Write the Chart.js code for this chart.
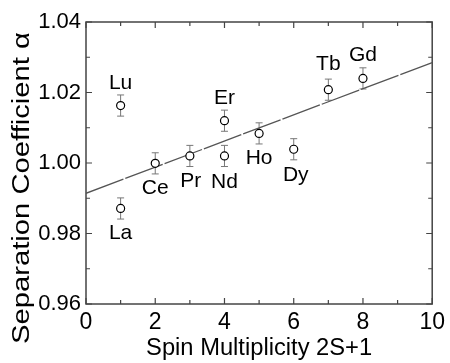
<!DOCTYPE html>
<html>
<head>
<meta charset="utf-8">
<script src="https://cdn.jsdelivr.net/npm/chart.js@4/dist/chart.umd.min.js"></script>
<style>
  html, body { margin: 0; padding: 0; background: #fff; }
  #wrap { width: 450px; height: 363px; }
</style>
</head>
<body>
<div id="wrap"><canvas id="myChart" width="450" height="363"></canvas></div>
<script>
// data
var elements = ["Lu", "La", "Ce", "Pr", "Nd", "Er", "Ho", "Dy", "Tb", "Gd"];
var spin = [1, 1, 2, 3, 4, 4, 5, 6, 7, 8];
var alpha = [1.0163, 0.9871, 0.9999, 1.0020, 1.0020, 1.0120, 1.0084, 1.0039, 1.0208, 1.0240];
var alphaErr = [0.003, 0.003, 0.003, 0.003, 0.003, 0.003, 0.003, 0.003, 0.003, 0.003];
var fitX = [0, 10];
var fitY = [0.9914, 1.0285];
var xTicks = [0, 2, 4, 6, 8, 10];
var yTicks = [0.96, 0.98, 1.00, 1.02, 1.04];

// label offset from its point (px)
var labelDx = [0, 0, 0, 1, 0, 0, 0, 2, 0, 0];
var labelDy = [-22, 25, 25, 25, 26, -22, 25, 26, -25, -23];

var FONT = "'Liberation Sans', Arial, sans-serif";

var pts = [];
for (var i = 0; i < spin.length; i++) pts.push({x: spin[i], y: alpha[i]});
var fit = [];
for (var j = 0; j < fitX.length; j++) fit.push({x: fitX[j], y: fitY[j]});

function drawStretched(ctx, text, x, y, size, width, rot) {
    ctx.save();
    ctx.font = size + "px " + FONT;
    var w = ctx.measureText(text).width;
    ctx.translate(x, y);
    if (rot) ctx.rotate(rot);
    ctx.scale(width / w, 1);
    ctx.textAlign = "center";
    ctx.textBaseline = "middle";
    ctx.fillStyle = "#000";
    ctx.fillText(text, 0, 0);
    ctx.restore();
}

var extras = {
    id: "extras",
    beforeDatasetsDraw: function (chart) {
        var ctx = chart.ctx, xs = chart.scales.x, ys = chart.scales.y, a = chart.chartArea;
        ctx.save();
        // frame
        ctx.strokeStyle = "#444";
        ctx.lineWidth = 1.5;
        ctx.strokeRect(a.left, a.top, a.right - a.left, a.bottom - a.top);
        // inward ticks
        ctx.lineWidth = 1.2;
        ctx.beginPath();
        for (var v = 0; v <= 10; v++) {
            var px = xs.getPixelForValue(v);
            var len = (v % 2 == 0) ? 6 : 4;
            ctx.moveTo(px, a.bottom); ctx.lineTo(px, a.bottom - len);
            ctx.moveTo(px, a.top); ctx.lineTo(px, a.top + len);
        }
        for (var k = 0; k <= 8; k++) {
            var py = ys.getPixelForValue(0.96 + k * 0.01);
            var l2 = (k % 2 == 0) ? 6 : 4;
            ctx.moveTo(a.left, py); ctx.lineTo(a.left + l2, py);
            ctx.moveTo(a.right, py); ctx.lineTo(a.right - l2, py);
        }
        ctx.stroke();
        // error bars
        ctx.strokeStyle = "#777";
        ctx.lineWidth = 1;
        ctx.beginPath();
        for (var i = 0; i < spin.length; i++) {
            var x = xs.getPixelForValue(spin[i]);
            var y1 = ys.getPixelForValue(alpha[i] + alphaErr[i]);
            var y2 = ys.getPixelForValue(alpha[i] - alphaErr[i]);
            ctx.moveTo(x, y1); ctx.lineTo(x, y2);
            ctx.moveTo(x - 3.5, y1); ctx.lineTo(x + 3.5, y1);
            ctx.moveTo(x - 3.5, y2); ctx.lineTo(x + 3.5, y2);
        }
        ctx.stroke();
        ctx.restore();
    },
    afterDatasetsDraw: function (chart) {
        var ctx = chart.ctx, xs = chart.scales.x, ys = chart.scales.y, a = chart.chartArea;
        ctx.save();
        ctx.font = "21px " + FONT;
        ctx.fillStyle = "#000";
        ctx.textAlign = "center";
        ctx.textBaseline = "middle";
        for (var i = 0; i < elements.length; i++) {
            var x = xs.getPixelForValue(spin[i]) + labelDx[i];
            var y = ys.getPixelForValue(alpha[i]) + labelDy[i];
            ctx.fillText(elements[i], x, y);
        }
        ctx.restore();
        // axis titles
        drawStretched(ctx, "Spin Multiplicity 2S+1", (a.left + a.right) / 2, 349, 23, 226, 0);
        drawStretched(ctx, "Separation Coefficient \u03b1", 23, 188, 23, 312, -Math.PI / 2);
    }
};

var ctx = document.getElementById("myChart");
var myChart = new Chart(ctx, {
    type: "scatter",
    data: {
        datasets: [{
            label: "fit",
            type: "line",
            data: fit,
            borderColor: "#555",
            borderWidth: 1.3,
            borderDash: [40, 2],
            pointRadius: 0,
            fill: false,
            order: 2
        }, {
            label: "alpha",
            data: pts,
            pointStyle: "circle",
            pointRadius: 4,
            pointBorderWidth: 1.2,
            pointBorderColor: "#000",
            pointBackgroundColor: "#fff",
            order: 1
        }]
    },
    options: {
        responsive: false,
        animation: false,
        layout: { padding: { top: 22, right: 13, left: 0, bottom: 0 } },
        plugins: { legend: { display: false }, tooltip: { enabled: false } },
        scales: {
            x: {
                type: "linear",
                min: 0, max: 10,
                afterFit: function (s) { s.height = 59; },
                afterBuildTicks: function (s) { s.ticks = xTicks.map(function (v) { return {value: v}; }); },
                grid: { display: false, drawTicks: false },
                border: { display: false },
                ticks: { color: "#000", padding: 5, font: { family: FONT, size: 23 } }
            },
            y: {
                type: "linear",
                min: 0.96, max: 1.04,
                afterFit: function (s) { s.width = 86; },
                afterBuildTicks: function (s) { s.ticks = yTicks.map(function (v) { return {value: v}; }); },
                grid: { display: false, drawTicks: false },
                border: { display: false },
                ticks: {
                    color: "#000", padding: 5, font: { family: FONT, size: 22 },
                    callback: function (v) { return v.toFixed(2); }
                }
            }
        }
    },
    plugins: [extras]
});
</script>
</body>
</html>
